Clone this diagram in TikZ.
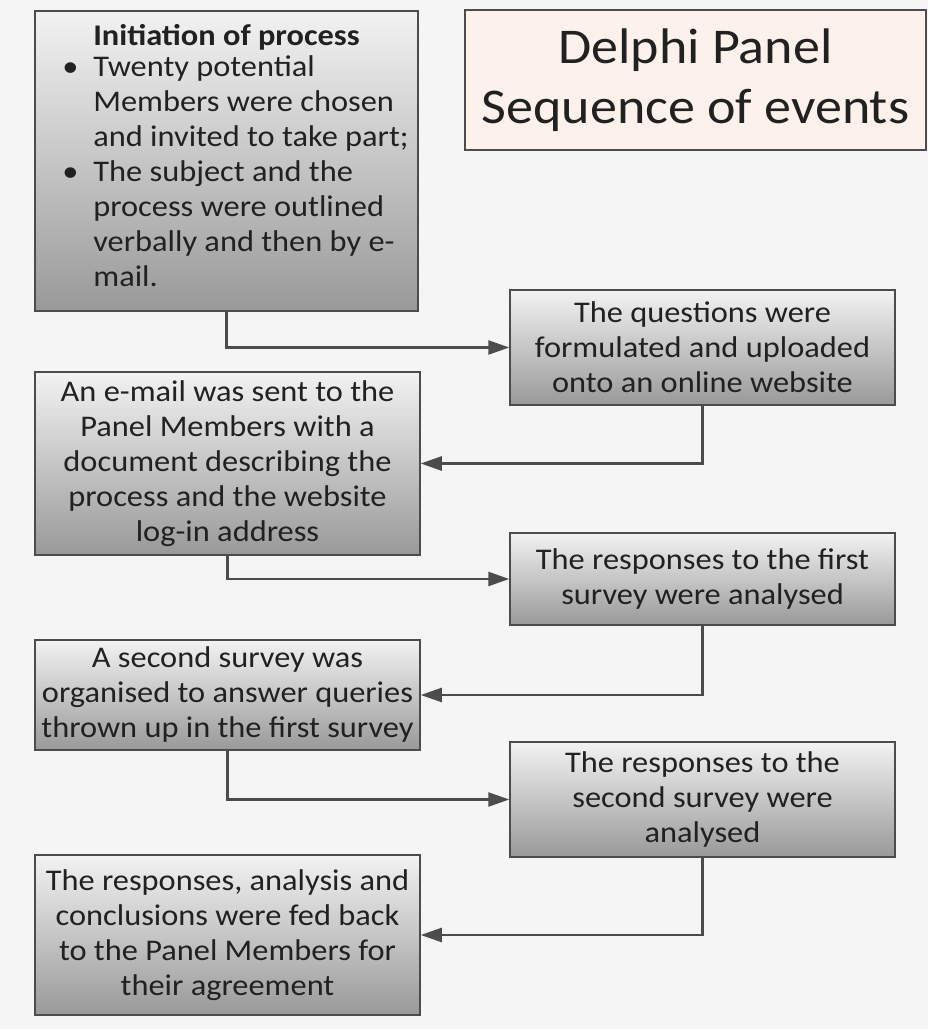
\documentclass[tikz,border=0pt]{standalone}
\usepackage{fontspec}
\setmainfont{Carlito}[FakeStretch=1.08]
\definecolor{panelbg}{rgb}{0.96,0.96,0.96}
\definecolor{boxline}{rgb}{0.30,0.30,0.30}
\definecolor{boxtop}{rgb}{0.95,0.95,0.95}
\definecolor{boxbot}{rgb}{0.60,0.60,0.60}
\definecolor{titlebg}{rgb}{0.99,0.95,0.92}
\definecolor{inktext}{rgb}{0.13,0.13,0.13}
\usetikzlibrary{arrows.meta}

\begin{document}
\begin{tikzpicture}[x=1pt, y=1pt,
      box/.style={draw=boxline, line width=1.5pt, top color=boxtop, bottom color=boxbot,
                  minimum width=385pt, text=inktext, align=center, inner sep=3pt,
                  font=\fontsize{30}{35}\selectfont},
      ttl/.style={draw=boxline, line width=1.5pt, fill=titlebg,
                  minimum width=461pt, minimum height=140pt, text=inktext,
                  align=center, font=\fontsize{50}{60}\selectfont},
      arr/.style={-{Triangle[length=21pt, width=14pt]}, line width=2.5pt, color=boxline}
  ]
    \useasboundingbox[fill=panelbg] (0,0) rectangle (928,1029);
    \node[box, minimum width=383pt, minimum height=300pt] (init) at (226.5,868)
      {\textbf{Initiation of process}\\[1pt]
       \hspace*{18pt}\begin{tabular}{@{}p{31pt}@{}l@{}}
         \textbullet & Twenty potential\\
                     & Members were chosen\\
                     & and invited to take part;\\
         \textbullet & The subject and the\\
                     & process were outlined\\
                     & verbally and then by e-\\
                     & mail.
       \end{tabular}};
    \node[ttl] (title) at (695.5,949) {Delphi Panel\\ Sequence of events};
    \node[box, minimum height=115pt] (quest) at (702.5,681.5)
      {The questions were\\ formulated and uploaded\\ onto an online website};
    \node[box, minimum height=183pt] (mail) at (227.5,565.5)
      {An e-mail was sent to the\\ Panel Members with a\\ document describing the\\
       process and the website\\ log-in address};
    \node[box, minimum height=92pt] (resp1) at (702.5,450)
      {The responses to the first\\ survey were analysed};
    \node[box, minimum height=110pt] (surv2) at (227.5,334)
      {A second survey was\\ organised to answer queries\\ thrown up in the first survey};
    \node[box, minimum height=115pt] (resp2) at (702.5,229.5)
      {The responses to the\\ second survey were\\ analysed};
    \node[box, minimum height=160pt] (feed) at (227.5,94)
      {The responses, analysis and\\ conclusions were fed back\\ to the Panel Members for\\
       their agreement};
    \draw[arr] (init.south) |- (quest.west);
    \draw[arr] (quest.south) |- (mail.east);
    \draw[arr] (mail.south) |- (resp1.west);
    \draw[arr] (resp1.south) |- (surv2.east);
    \draw[arr] (surv2.south) |- (resp2.west);
    \draw[arr] (resp2.south) |- (feed.east);
  \end{tikzpicture}
\end{document}
